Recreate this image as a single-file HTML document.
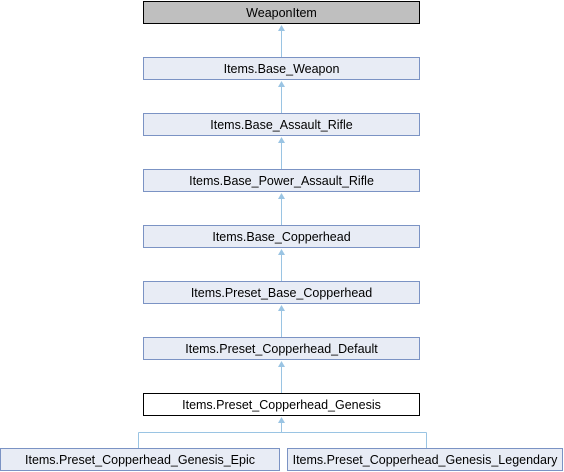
<!DOCTYPE html>
<html><head><meta charset="utf-8"><style>
html,body{margin:0;padding:0;background:#fff;width:564px;height:472px;overflow:hidden}
svg text{font-family:"Liberation Sans",Arial,sans-serif;font-size:12.5px;fill:#000}
</style></head><body>
<svg width="564" height="472" xmlns="http://www.w3.org/2000/svg">
<g stroke="#9ac4e3" stroke-width="1" fill="none">
<line x1="281.5" y1="30" x2="281.5" y2="58"/>
<line x1="281.5" y1="86" x2="281.5" y2="114"/>
<line x1="281.5" y1="142" x2="281.5" y2="170"/>
<line x1="281.5" y1="198" x2="281.5" y2="226"/>
<line x1="281.5" y1="254" x2="281.5" y2="282"/>
<line x1="281.5" y1="310" x2="281.5" y2="338"/>
<line x1="281.5" y1="366" x2="281.5" y2="394"/>
<line x1="281.5" y1="422" x2="281.5" y2="432.5"/>
<line x1="138.5" y1="432.5" x2="426.5" y2="432.5"/>
<line x1="138.5" y1="432.5" x2="138.5" y2="450"/>
<line x1="426.5" y1="432.5" x2="426.5" y2="450"/>
</g>
<g fill="#9ac4e3">
<polygon points="281.5,25 278,31 285,31"/>
<polygon points="281.5,81 278,87 285,87"/>
<polygon points="281.5,137 278,143 285,143"/>
<polygon points="281.5,193 278,199 285,199"/>
<polygon points="281.5,249 278,255 285,255"/>
<polygon points="281.5,305 278,311 285,311"/>
<polygon points="281.5,361 278,367 285,367"/>
<polygon points="281.5,417 278,423 285,423"/>
</g>
<rect x="143.5" y="1.5" width="276" height="22" fill="#bfbfbf" stroke="#000"/>
<text x="281.5" y="17" text-anchor="middle">WeaponItem</text>
<g fill="#e8ecf5" stroke="#7b93c4">
<rect x="143.5" y="57.5" width="276" height="22"/>
<rect x="143.5" y="113.5" width="276" height="22"/>
<rect x="143.5" y="169.5" width="276" height="22"/>
<rect x="143.5" y="225.5" width="276" height="22"/>
<rect x="143.5" y="281.5" width="276" height="22"/>
<rect x="143.5" y="337.5" width="276" height="22"/>
<rect x="0.5" y="448.5" width="279" height="22"/>
<rect x="287.5" y="448.5" width="275" height="22"/>
</g>
<rect x="143.5" y="393.5" width="276" height="22" fill="#fff" stroke="#000"/>
<g text-anchor="middle">
<text x="281.5" y="73">Items.Base_Weapon</text>
<text x="281.5" y="129">Items.Base_Assault_Rifle</text>
<text x="281.5" y="185">Items.Base_Power_Assault_Rifle</text>
<text x="281.5" y="241">Items.Base_Copperhead</text>
<text x="281.5" y="297">Items.Preset_Base_Copperhead</text>
<text x="281.5" y="353">Items.Preset_Copperhead_Default</text>
<text x="281.5" y="409">Items.Preset_Copperhead_Genesis</text>
<text x="140" y="464">Items.Preset_Copperhead_Genesis_Epic</text>
<text x="425" y="464">Items.Preset_Copperhead_Genesis_Legendary</text>
</g>
</svg>
</body></html>
